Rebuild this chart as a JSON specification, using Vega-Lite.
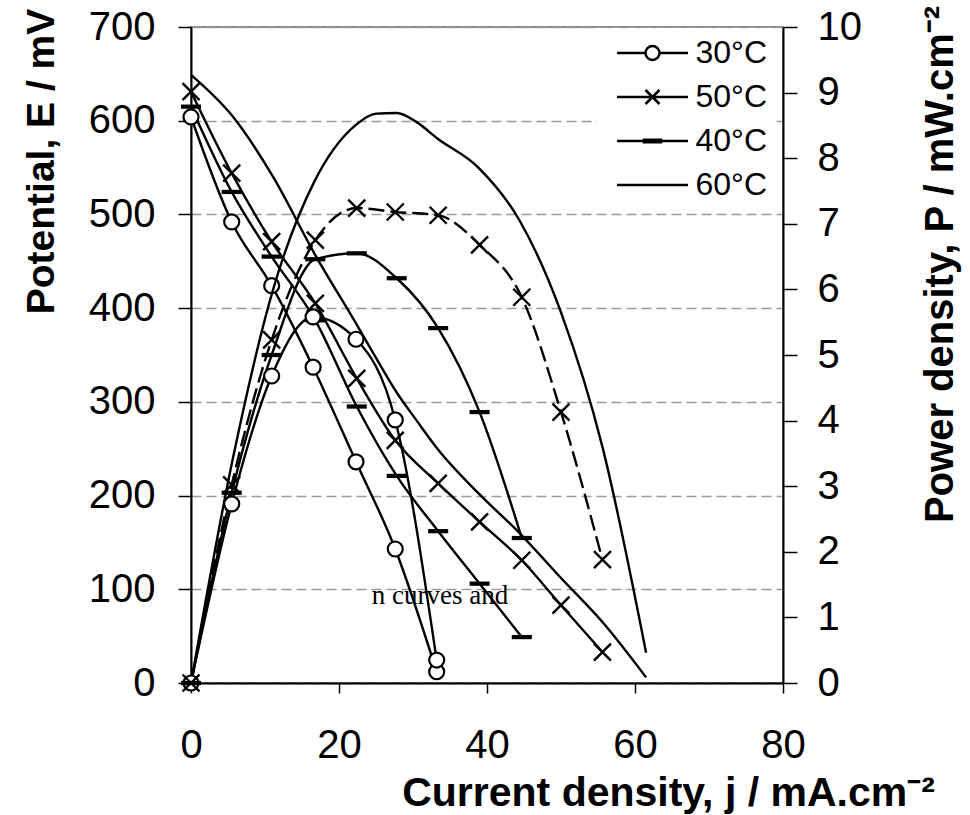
{
  "$schema": "https://vega.github.io/schema/vega-lite/v6.json",
  "width": 592,
  "height": 656,
  "autosize": {"type": "none"},
  "padding": {"left": 191, "top": 27, "right": 187, "bottom": 132},
  "background": "white",
  "config": {
    "font": "Liberation Sans",
    "view": {"stroke": "#8c8c8c", "strokeWidth": 2}
  },
  "data": {
    "values": [
      {"T": "30°C", "j": 0, "E": 604, "P": 0},
      {"T": "30°C", "j": 5.5, "E": 492, "P": 2.73},
      {"T": "30°C", "j": 10.9, "E": 424, "P": 4.68},
      {"T": "30°C", "j": 16.5, "E": 337, "P": 5.58},
      {"T": "30°C", "j": 22.3, "E": 236, "P": 5.24},
      {"T": "30°C", "j": 27.6, "E": 143, "P": 4.01},
      {"T": "30°C", "j": 33.2, "E": 12, "P": 0.35},
      {"T": "50°C", "j": 0, "E": 631, "P": 0},
      {"T": "50°C", "j": 5.5, "E": 544, "P": 3.02},
      {"T": "50°C", "j": 10.9, "E": 471, "P": 5.23},
      {"T": "50°C", "j": 16.8, "E": 405, "P": 6.75},
      {"T": "50°C", "j": 22.4, "E": 325, "P": 7.24},
      {"T": "50°C", "j": 27.6, "E": 259, "P": 7.18},
      {"T": "50°C", "j": 33.4, "E": 213, "P": 7.13},
      {"T": "50°C", "j": 39.0, "E": 172, "P": 6.68},
      {"T": "50°C", "j": 44.7, "E": 131, "P": 5.88},
      {"T": "50°C", "j": 50.0, "E": 83, "P": 4.13},
      {"T": "50°C", "j": 55.6, "E": 33, "P": 1.88},
      {"T": "40°C", "j": 0, "E": 615, "P": 0},
      {"T": "40°C", "j": 5.5, "E": 524, "P": 2.9},
      {"T": "40°C", "j": 10.9, "E": 455, "P": 5.0},
      {"T": "40°C", "j": 16.8, "E": 387, "P": 6.46},
      {"T": "40°C", "j": 22.4, "E": 295, "P": 6.55},
      {"T": "40°C", "j": 27.8, "E": 221, "P": 6.17},
      {"T": "40°C", "j": 33.4, "E": 162, "P": 5.41},
      {"T": "40°C", "j": 39.0, "E": 106, "P": 4.13},
      {"T": "40°C", "j": 44.7, "E": 49, "P": 2.21},
      {"T": "60°C", "j": 0, "E": 649, "P": 0},
      {"T": "60°C", "j": 5.6, "E": 605, "P": 3.39},
      {"T": "60°C", "j": 11.1, "E": 540, "P": 6.0},
      {"T": "60°C", "j": 16.7, "E": 458, "P": 7.65},
      {"T": "60°C", "j": 22.2, "E": 385, "P": 8.5},
      {"T": "60°C", "j": 25.0, "E": 347, "P": 8.68},
      {"T": "60°C", "j": 27.8, "E": 310, "P": 8.69},
      {"T": "60°C", "j": 30.5, "E": 280, "P": 8.55},
      {"T": "60°C", "j": 33.3, "E": 250, "P": 8.3},
      {"T": "60°C", "j": 38.9, "E": 202, "P": 7.85},
      {"T": "60°C", "j": 44.4, "E": 160, "P": 7.05},
      {"T": "60°C", "j": 50.0, "E": 112, "P": 5.65},
      {"T": "60°C", "j": 55.6, "E": 65, "P": 3.6},
      {"T": "60°C", "j": 61.5, "E": 6, "P": 0.46}
    ]
  },
  "encoding": {
    "x": {
      "field": "j",
      "type": "quantitative",
      "scale": {"domain": [0, 80], "nice": false, "zero": false},
      "axis": {
        "values": [0, 20, 40, 60, 80],
        "grid": false,
        "domainColor": "black",
        "domainWidth": 2,
        "tickColor": "black",
        "tickWidth": 1.5,
        "tickSize": 10,
        "labelFontSize": 40,
        "labelColor": "black",
        "labelBaseline": "alphabetic",
        "labelPadding": 64,
        "labelFlush": false,
        "labelOverlap": false,
        "title": "Current density, j / mA.cm⁻²",
        "titleFontSize": 41,
        "titleFontWeight": "bold",
        "titleColor": "black",
        "titleX": 477,
        "titleY": 122,
        "titleAlign": "center",
        "titleBaseline": "alphabetic"
      }
    }
  },
  "layer": [
    {
      "encoding": {
        "y": {
          "field": "E",
          "type": "quantitative",
          "scale": {"domain": [0, 700], "nice": false},
          "axis": {
            "orient": "left",
            "values": [0, 100, 200, 300, 400, 500, 600, 700],
            "grid": true,
            "gridColor": "#9a9a9a",
            "gridDash": [10, 5],
            "gridWidth": 1.5,
            "domainColor": "black",
            "domainWidth": 2,
            "tickColor": "black",
            "tickWidth": 1.5,
            "tickSize": 13,
            "labelFontSize": 40,
            "labelColor": "black",
            "labelPadding": 23,
            "labelFlush": false,
            "labelOverlap": false,
            "title": "Potential, E / mV",
            "titleFontSize": 39,
            "titleFontWeight": "bold",
            "titleColor": "black",
            "titleAngle": 270,
            "titleX": -138,
            "titleY": 134,
            "titleAlign": "center",
            "titleBaseline": "alphabetic"
          }
        }
      },
      "layer": [
        {
          "mark": {"type": "line", "color": "black", "strokeWidth": 2.4, "interpolate": "monotone"},
          "encoding": {"detail": {"field": "T", "type": "nominal"}}
        },
        {
          "transform": [{"filter": "datum.T == '30°C'"}],
          "mark": {"type": "point", "shape": "circle", "size": 225, "filled": true, "fill": "white", "stroke": "black", "strokeWidth": 2.2, "opacity": 1}
        },
        {
          "transform": [{"filter": "datum.T == '50°C'"}],
          "mark": {"type": "point", "shape": "M-1,-1L1,1M-1,1L1,-1", "size": 289, "filled": false, "stroke": "black", "strokeWidth": 2.4, "opacity": 1}
        },
        {
          "transform": [{"filter": "datum.T == '40°C'"}],
          "mark": {"type": "point", "shape": "M-1.05,-0.12H1.05V0.12H-1.05Z", "size": 289, "filled": true, "fill": "black", "stroke": "black", "strokeWidth": 2.2, "opacity": 1}
        },
        {
          "transform": [{"filter": "false"}],
          "mark": {"type": "point", "filled": false, "stroke": "black", "strokeWidth": 2.5, "opacity": 1},
          "encoding": {
            "shape": {
              "field": "T",
              "type": "nominal",
              "scale": {
                "domain": ["30°C", "50°C", "40°C", "60°C"],
                "range": [
                  "M-1,0H4.7M7.5,0H13.2M4.7,0A1.4,1.4 0 1,0 7.5,0A1.4,1.4 0 1,0 4.7,0Z",
                  "M-1,0H13.2M4.7,-1.4L7.5,1.4M4.7,1.4L7.5,-1.4",
                  "M-1,0H13.2M4.4,-0.25H7.8V0.25H4.4Z",
                  "M-1,0H13.2"
                ]
              },
              "legend": {
                "orient": "none",
                "legendX": 406,
                "legendY": 1,
                "title": null,
                "fillColor": "white",
                "padding": 9,
                "symbolSize": 100,
                "symbolStrokeWidth": 2.5,
                "symbolStrokeColor": "black",
                "symbolFillColor": "white",
                "symbolOpacity": 1,
                "labelFontSize": 32,
                "labelColor": "black",
                "labelOffset": 57.5,
                "rowPadding": 12
              }
            }
          }
        },
        {
          "data": {"values": [{"j": 33.65, "E": 84.3, "label": "n curves and"}]},
          "mark": {"type": "text", "font": "Liberation Serif", "fontSize": 27, "align": "center", "baseline": "alphabetic", "color": "black"},
          "encoding": {"text": {"field": "label", "type": "nominal"}}
        }
      ]
    },
    {
      "encoding": {
        "y": {
          "field": "P",
          "type": "quantitative",
          "scale": {"domain": [0, 10], "nice": false},
          "axis": {
            "orient": "right",
            "values": [0, 1, 2, 3, 4, 5, 6, 7, 8, 9, 10],
            "grid": false,
            "domainColor": "black",
            "domainWidth": 2,
            "tickColor": "black",
            "tickWidth": 1.5,
            "tickSize": 14,
            "labelFontSize": 40,
            "labelColor": "black",
            "labelPadding": 20,
            "labelFlush": false,
            "labelOverlap": false,
            "title": "Power density, P / mW.cm⁻²",
            "titleFontSize": 40,
            "titleFontWeight": "bold",
            "titleColor": "black",
            "titleAngle": 270,
            "titleX": 169,
            "titleY": 237,
            "titleAlign": "center",
            "titleBaseline": "alphabetic"
          }
        }
      },
      "layer": [
        {
          "transform": [{"filter": "datum.T != '50°C'"}],
          "mark": {"type": "line", "color": "black", "strokeWidth": 2.4, "interpolate": "monotone"},
          "encoding": {"detail": {"field": "T", "type": "nominal"}}
        },
        {
          "transform": [{"filter": "datum.T == '50°C'"}],
          "mark": {"type": "line", "color": "black", "strokeWidth": 2.4, "interpolate": "monotone", "strokeDash": [16, 6]},
          "encoding": {}
        },
        {
          "transform": [{"filter": "datum.T == '30°C'"}],
          "mark": {"type": "point", "shape": "circle", "size": 225, "filled": true, "fill": "white", "stroke": "black", "strokeWidth": 2.2, "opacity": 1}
        },
        {
          "transform": [{"filter": "datum.T == '50°C'"}],
          "mark": {"type": "point", "shape": "M-1,-1L1,1M-1,1L1,-1", "size": 289, "filled": false, "stroke": "black", "strokeWidth": 2.4, "opacity": 1}
        },
        {
          "transform": [{"filter": "datum.T == '40°C'"}],
          "mark": {"type": "point", "shape": "M-1.05,-0.12H1.05V0.12H-1.05Z", "size": 289, "filled": true, "fill": "black", "stroke": "black", "strokeWidth": 2.2, "opacity": 1}
        }
      ]
    }
  ],
  "resolve": {"scale": {"y": "independent"}}
}
